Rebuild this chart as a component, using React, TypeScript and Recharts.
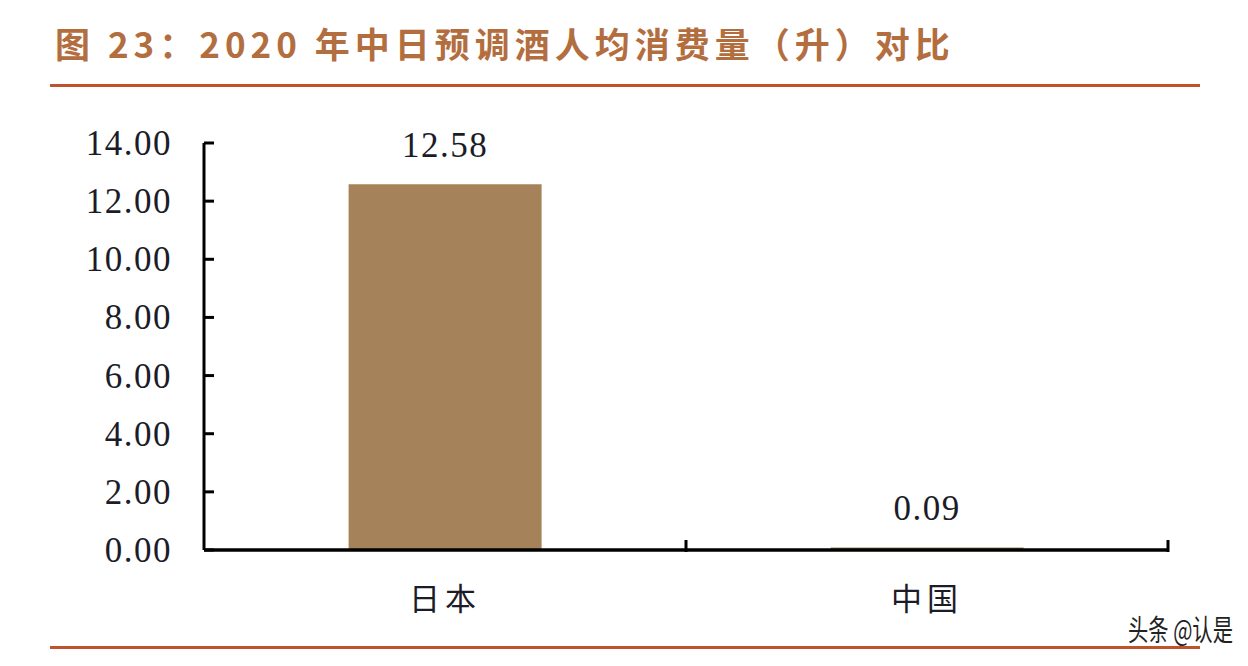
import { BarChart, Bar, XAxis, YAxis, LabelList } from 'recharts'

const countries = ['日本', '中国']
const perCapita = [12.58, 0.09]
const yTicks = [0, 2, 4, 6, 8, 10, 12, 14]

const data = countries.map((name, i) => ({ name, value: perCapita[i] }))

const W = 1248
const H = 666
const AXIS_W = 204
const RIGHT = 80
const TOP = 143
const BOTTOM = 116
const BAND = (W - AXIS_W - RIGHT) / countries.length

const ink = '#1c1c28'
const barColor = '#A6825A'
const rule = '#C0522C'
const serif = "'Liberation Serif', serif"

function YTick(props: any) {
  const { x, y, payload } = props
  return (
    <g>
      <text x={x} y={y} dy={12} textAnchor="end" fontSize={35} letterSpacing={1.5} fill={ink} fontFamily={serif}>
        {Number(payload.value).toFixed(2)}
      </text>
      <line x1={x + 32} x2={x + 42} y1={y} y2={y} stroke="#000" strokeWidth={3} />
    </g>
  )
}

function XTick(props: any) {
  const { x, y, payload } = props
  return (
    <g>
      <text x={x} y={y + 58} textAnchor="middle" fontSize={31} fill={ink} fontFamily="'Noto Sans CJK SC', sans-serif" letterSpacing={5}>
        {payload.value}
      </text>
      <line x1={x + BAND / 2} x2={x + BAND / 2} y1={y} y2={y - 12} stroke="#000" strokeWidth={3} />
    </g>
  )
}

export default function App() {
  return (
    <div style={{ position: 'absolute', left: 0, top: 0, width: W, height: H, background: '#fff', overflow: 'hidden' }}>
      <div style={{
        position: 'absolute', left: 55, top: 19, fontSize: 35, fontWeight: 700, color: '#B36E3F',
        fontFamily: "'Noto Sans CJK SC', sans-serif", letterSpacing: 5, whiteSpace: 'nowrap', lineHeight: '48px',
      }}>
        图 23：2020 年中日预调酒人均消费量（升）对比
      </div>
      <div style={{ position: 'absolute', left: 50, top: 84, width: 1150, height: 3, background: rule }} />
      <div style={{ position: 'absolute', left: 50, top: 646, width: 1150, height: 3, background: rule }} />
      <div style={{ position: 'absolute', left: 0, top: 0 }}>
        <BarChart width={W} height={H} data={data} margin={{ top: TOP, right: RIGHT, bottom: BOTTOM - 60, left: 0 }} barCategoryGap="30%">
          <YAxis
            width={AXIS_W}
            domain={[0, 14]}
            ticks={yTicks}
            interval={0}
            tickLine={false}
            tickSize={0}
            tickMargin={32}
            axisLine={{ stroke: '#000', strokeWidth: 3 }}
            tick={<YTick />}
          />
          <XAxis
            dataKey="name"
            height={60}
            tickLine={false}
            tickSize={0}
            axisLine={{ stroke: '#000', strokeWidth: 3.5 }}
            tick={<XTick />}
          />
          <Bar dataKey="value" fill={barColor} isAnimationActive={false}>
            <LabelList
              dataKey="value"
              position="top"
              offset={27}
              formatter={(v: any) => Number(v).toFixed(2)}
              style={{ fontSize: 35, letterSpacing: 1.5, fill: ink, fontFamily: serif }}
            />
          </Bar>
        </BarChart>
      </div>
      <div style={{
        position: 'absolute', left: 1128, top: 610, fontSize: 29, color: '#222',
        fontFamily: "'Noto Sans CJK SC', sans-serif", whiteSpace: 'nowrap', lineHeight: '36px',
        transform: 'scaleX(0.7)', transformOrigin: 'left top',
      }}>
        头条 @认是
      </div>
    </div>
  )
}
